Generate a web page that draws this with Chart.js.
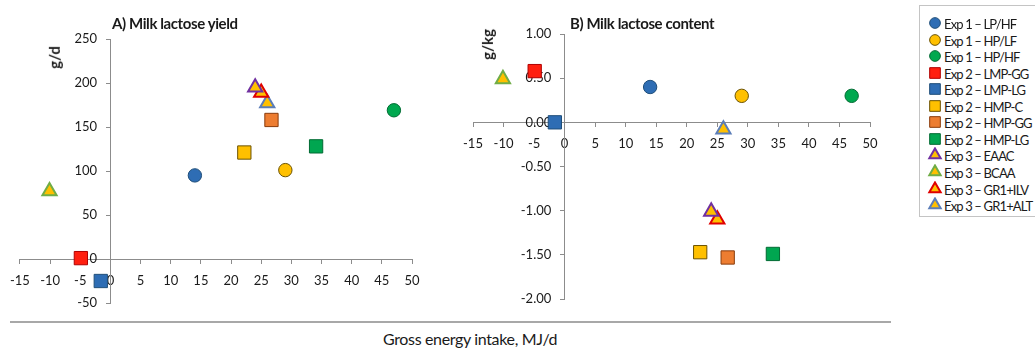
<!DOCTYPE html>
<html>
<head>
<meta charset="utf-8">
<script src="https://cdn.jsdelivr.net/npm/chart.js@4/dist/chart.umd.min.js"></script>
<style>
  html, body { margin: 0; padding: 0; background: #fff; }
  body { width: 1035px; height: 349px; position: relative; overflow: hidden; font-family: Lato, "Open Sans", sans-serif; color: #1a1a1a; }
  canvas { position: absolute; }
  .txt { position: absolute; white-space: nowrap; line-height: 1; }
  .title { font-size: 15px; font-weight: 700; letter-spacing: -0.4px; }
  .unit { font-size: 15px; font-weight: 700; transform: rotate(-90deg); transform-origin: center center; }
  #legend { position: absolute; left: 919px; top: 5px; width: 130px; height: 212px; border: 1px solid #c4c4c4; box-sizing: border-box; }
  .lg-row { position: absolute; left: 0; height: 16px; }
  .lg-row canvas { position: absolute; left: 6px; top: 0; }
  .lg-row span { position: absolute; left: 24px; top: 1px; font-size: 13px; white-space: nowrap; letter-spacing: -0.85px; }
  #rule { position: absolute; left: 10px; top: 321px; width: 881px; height: 2px; background: #a8a8a8; }
</style>
</head>
<body>
<canvas id="chartA" width="440" height="320" style="left:0;top:0"></canvas>
<canvas id="chartB" width="450" height="320" style="left:440px;top:0"></canvas>

<div class="txt title" style="left:112px;top:16px">A) Milk lactose yield</div>
<div class="txt title" style="left:570px;top:16px">B) Milk lactose content</div>
<div class="txt unit" style="left:43px;top:50px">g/d</div>
<div class="txt unit" style="left:472px;top:37px">g/kg</div>
<div class="txt" style="left:383px;top:331px;font-size:16px;letter-spacing:-0.35px">Gross energy intake, MJ/d</div>
<div id="rule"></div>
<div id="legend"></div>

<script>
// Treatment groups, gross energy intake (MJ/d) and milk lactose responses
const treatments = [
  'Exp 1 – LP/HF', 'Exp 1 – HP/LF', 'Exp 1 – HP/HF',
  'Exp 2 – LMP-GG', 'Exp 2 – LMP-LG', 'Exp 2 – HMP-C', 'Exp 2 – HMP-GG', 'Exp 2 – HMP-LG',
  'Exp 3 – EAAC', 'Exp 3 – BCAA', 'Exp 3 – GR1+ILV', 'Exp 3 – GR1+ALT'
];
const energyIntake   = [14.0, 29.0, 47.0, -4.9, -1.6, 22.2, 26.7, 34.1, 24.0, -10.1, 25.0, 26.0];
const lactoseYield   = [95, 101, 169, 1, -25, 121, 158, 128, 195, 77, 189, 177];
const lactoseContent = [0.40, 0.30, 0.30, 0.58, 0.00, -1.47, -1.53, -1.49, -1.01, 0.49, -1.10, -0.08];

const xTicks = [-15, -10, -5, 0, 5, 10, 15, 20, 25, 30, 35, 40, 45, 50];
const yieldTicks = [-50, 0, 50, 100, 150, 200, 250];
const contentTicks = [-2.0, -1.5, -1.0, -0.5, 0.0, 0.5, 1.0];

// Marker styling per treatment
const markerShape  = ['circle', 'circle', 'circle', 'rect', 'rect', 'rect', 'rect', 'rect', 'triangle', 'triangle', 'triangle', 'triangle'];
const markerFill   = ['#2e6db4', '#ffc000', '#00a84f', '#ff1f0f', '#2e6db4', '#ffc000', '#ed7d31', '#00a650', '#ffc000', '#ffc000', '#ffc000', '#ffc000'];
const markerBorder = ['#1f4e79', '#6b5200', '#006b33', '#b00000', '#1f4e79', '#6b5200', '#8a3c0c', '#006b33', '#7030a0', '#70ad47', '#e00000', '#5b7db8'];

const sizeByShape   = { circle: 6.7, rect: 9.4, triangle: 8.2 };
const borderByShape = { circle: 1, rect: 1, triangle: 2 };

const FONT = 'Lato, "Open Sans", sans-serif';
const TICK_FONT = { family: FONT, size: 13 };

function buildDatasets(values) {
  return treatments.map((name, i) => ({
    label: name,
    data: [{ x: energyIntake[i], y: values[i] }],
    pointStyle: markerShape[i],
    pointRadius: sizeByShape[markerShape[i]],
    pointHoverRadius: sizeByShape[markerShape[i]],
    backgroundColor: markerFill[i],
    borderColor: markerBorder[i],
    pointBorderWidth: borderByShape[markerShape[i]],
    borderWidth: borderByShape[markerShape[i]]
  }));
}

function axisOpts(extra) {
  return Object.assign({
    type: 'linear',
    border: { display: true, color: '#8c8c8c', width: 1 },
    grid: { display: true, drawOnChartArea: false, drawTicks: true, tickLength: 4, color: '#8c8c8c' }
  }, extra);
}

function makeChart(id, values, yTicks, yFmt, padding) {
  const yMin = yTicks[0], yMax = yTicks[yTicks.length - 1];
  return new Chart(document.getElementById(id), {
    type: 'scatter',
    data: { datasets: buildDatasets(values) },
    options: {
      responsive: false,
      animation: false,
      layout: { padding },
      plugins: { legend: { display: false }, tooltip: { enabled: false }, title: { display: false } },
      scales: {
        x: axisOpts({
          position: { y: 0 },
          min: xTicks[0], max: xTicks[xTicks.length - 1],
          afterBuildTicks: s => { s.ticks = xTicks.map(v => ({ value: v })); },
          ticks: { color: '#1a1a1a', font: TICK_FONT, autoSkip: false, maxRotation: 0, padding: 10,
                   callback: v => String(v) }
        }),
        y: axisOpts({
          position: { x: 0 },
          min: yMin, max: yMax,
          afterBuildTicks: s => { s.ticks = yTicks.map(v => ({ value: v })); },
          ticks: { color: '#1a1a1a', font: TICK_FONT, autoSkip: false, padding: 6,
                   callback: v => yFmt(v) + '    ' }
        })
      }
    }
  });
}

makeChart('chartA', lactoseYield, yieldTicks, v => String(v), { left: 16, right: 28, top: 39, bottom: 17 });
makeChart('chartB', lactoseContent, contentTicks, v => v.toFixed(2), { left: 33, right: 20, top: 34, bottom: 21 });

// Shared legend, symbols drawn with the library's point renderer
const legend = document.getElementById('legend');
treatments.forEach((name, i) => {
  const row = document.createElement('div');
  row.className = 'lg-row';
  row.style.top = (9 + i * 16.55) + 'px';
  const c = document.createElement('canvas');
  c.width = 18; c.height = 16;
  const ctx = c.getContext('2d');
  ctx.fillStyle = markerFill[i];
  ctx.strokeStyle = markerBorder[i];
  ctx.lineWidth = borderByShape[markerShape[i]];
  Chart.helpers.drawPoint(ctx, {
    pointStyle: markerShape[i],
    radius: sizeByShape[markerShape[i]] * 0.8,
    borderWidth: borderByShape[markerShape[i]],
    rotation: 0
  }, 9, 8);
  const s = document.createElement('span');
  s.textContent = name;
  row.appendChild(c);
  row.appendChild(s);
  legend.appendChild(row);
});
</script>
</body>
</html>
